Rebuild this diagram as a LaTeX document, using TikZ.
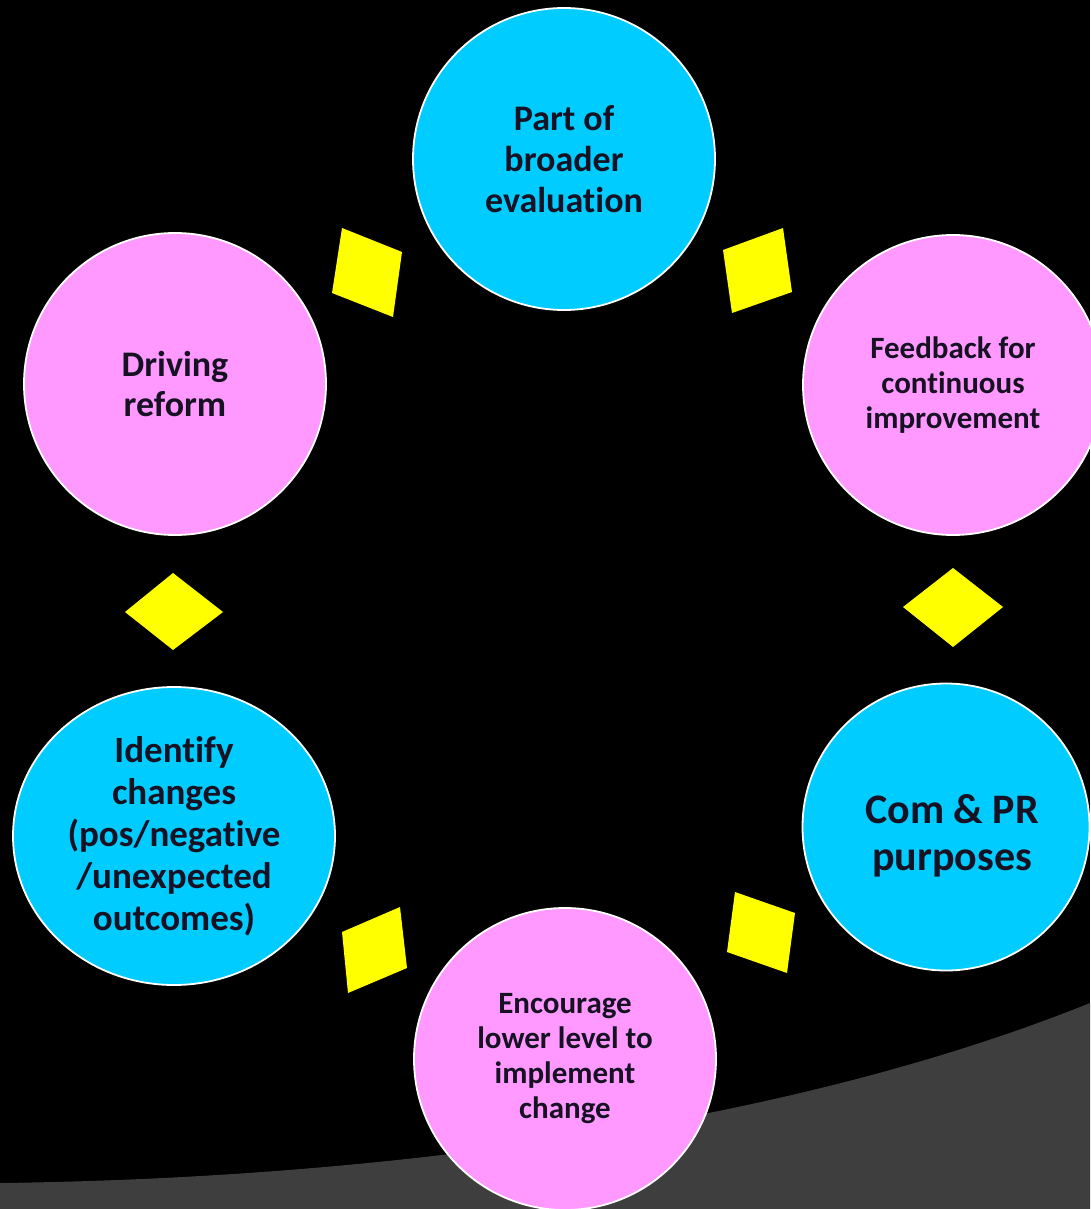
\documentclass[tikz,border=0pt]{standalone}
\usepackage{fontspec}
\setmainfont{Carlito}[Ligatures=NoCommon]
\usetikzlibrary{shapes.geometric}
\definecolor{cyanc}{RGB}{0,204,255}
\definecolor{pinkc}{RGB}{255,153,255}
\definecolor{yel}{RGB}{255,255,0}
\definecolor{grayband}{RGB}{62,62,62}
\definecolor{txt}{RGB}{22,18,36}
\tikzset{
  bubble/.style={circle, draw=white, line width=1.8pt, inner sep=0pt, align=center, text=txt},
  cyanbubble/.style={bubble, fill=cyanc},
  pinkbubble/.style={bubble, fill=pinkc},
  gem/.style={fill=yel, draw=none}
}
\begin{document}
\begin{tikzpicture}[x=1pt,y=-1pt]
\useasboundingbox (0,0) rectangle (1090,1209);
\fill[black] (0,0) rectangle (1090,1209);
% gray band
\fill[grayband] (0,1183) .. controls (400,1178) and (800,1120) .. (1090,1003) -- (1090,1209) -- (0,1209) -- cycle;

% circles
\node[cyanbubble, minimum size=302pt, font=\bfseries\fontsize{36}{41}\selectfont] (eval) at (564,159) {Part of\\broader\\evaluation};
\node[pinkbubble, minimum size=302pt, font=\bfseries\fontsize{36}{40}\selectfont] (reform) at (175,384) {Driving\\reform};
\node[pinkbubble, minimum size=300pt, font=\bfseries\fontsize{31}{35}\selectfont] (feedback) at (953,385) {Feedback for\\continuous\\improvement};
\node[cyanbubble, ellipse, minimum width=322pt, minimum height=298pt, font=\bfseries\fontsize{37}{42}\selectfont] (identify) at (174,836) {Identify\\changes\\(pos/negative\\/unexpected\\outcomes)};
\node[cyanbubble, minimum size=287pt] (compr) at (946,827) {};
\node[font=\bfseries\fontsize{42}{47}\selectfont, text=txt, align=center] (comprtext) at (952,836) {Com \& PR\\purposes};
\node[pinkbubble, minimum size=302pt, font=\bfseries\fontsize{31}{35}\selectfont] (encourage) at (565,1059) {Encourage\\lower level to\\implement\\change};

% yellow diamonds
\fill[gem] (342,228) -- (402,252) -- (393,317) -- (332,293) -- cycle;
\fill[gem] (723,250) -- (783,228) -- (792,292) -- (732,313) -- cycle;
\fill[gem] (173,573) -- (223,612) -- (173,650) -- (125,612) -- cycle;
\fill[gem] (953,568) -- (1003,607) -- (953,647) -- (903,607) -- cycle;
\fill[gem] (400,907) -- (407,968) -- (348,993) -- (342,932) -- cycle;
\fill[gem] (735,892) -- (795,913) -- (787,973) -- (727,952) -- cycle;
\end{tikzpicture}
\end{document}
